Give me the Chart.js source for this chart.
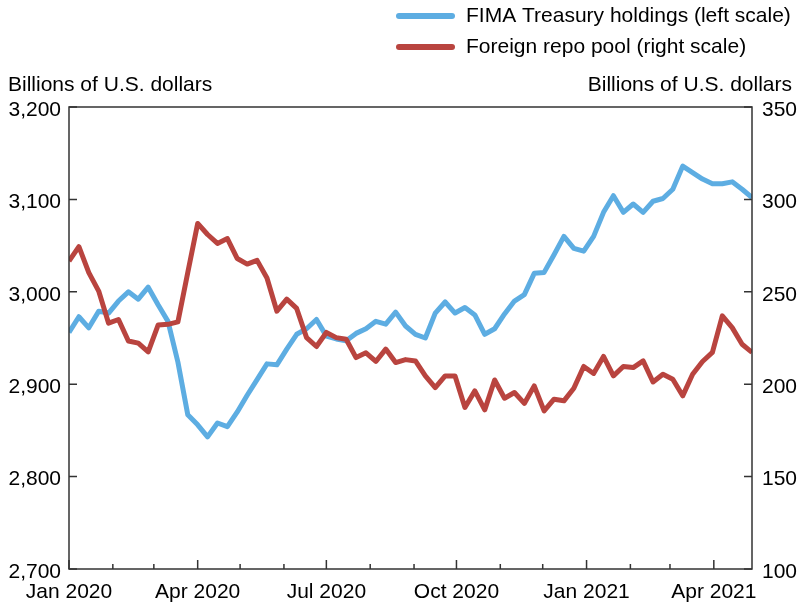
<!DOCTYPE html>
<html>
<head>
<meta charset="utf-8">
<script src="https://cdn.jsdelivr.net/npm/chart.js@4.4.1/dist/chart.umd.min.js"></script>
<style>
  html, body { margin: 0; padding: 0; background: #fff; }
  #wrap { width: 797px; height: 607px; position: relative; }
</style>
</head>
<body>
<div id="wrap"><canvas id="chart"></canvas></div>
<script>
// weekly observation dates (Wednesdays), Jan 1 2020 .. Apr 28 2021
const weeks = [];
for (let i = 0; i < 70; i++) {
  weeks.push(new Date(Date.UTC(2020, 0, 1 + 7 * i)).toISOString().slice(0, 10));
}

// FIMA Treasury holdings, billions (left scale)
const fimaHoldings = [
  2956, 2973, 2961, 2979, 2977, 2990, 3000, 2992, 3005, 2986,
  2968, 2924, 2867, 2856, 2843, 2858, 2854, 2870, 2888, 2905,
  2922, 2921, 2938, 2954, 2960, 2970, 2952, 2949, 2947, 2955,
  2960, 2968, 2965, 2978, 2963, 2954, 2950, 2977, 2989, 2977,
  2983, 2975, 2954, 2960, 2976, 2990, 2997, 3020, 3021, 3040,
  3060, 3047, 3044, 3060, 3086, 3104, 3086, 3095, 3086, 3098,
  3101, 3111, 3136, 3129, 3122, 3117, 3117, 3119, 3111, 3102
];

// Foreign repo pool, billions (right scale)
const repoPool = [
  266.6, 274.4, 260.4, 250.4, 233.0, 235.0, 223.4, 222.2, 217.5, 232.0,
  232.4, 233.7, 260.4, 287.0, 281.0, 276.2, 278.8, 268.0, 265.0, 267.0,
  257.5, 239.5, 246.0, 241.0, 225.2, 220.4, 228.0, 225.2, 224.3, 214.4,
  217.0, 212.3, 219.0, 211.7, 213.3, 212.6, 204.5, 198.2, 204.5, 204.5,
  187.4, 196.4, 186.1, 202.3, 192.4, 195.5, 189.6, 199.1, 185.6, 191.9,
  191.0, 197.8, 209.6, 205.8, 215.0, 204.5, 209.6, 209.0, 212.6, 201.2,
  205.4, 202.7, 193.7, 205.4, 212.3, 217.2, 237.0, 230.6, 221.6, 217.2
];

const quarterLabels = ['Jan 2020', 'Apr 2020', 'Jul 2020', 'Oct 2020', 'Jan 2021', 'Apr 2021'];
const unitLabel = 'Billions of U.S. dollars';

const BLUE = '#5dade2';
const RED = '#b9443f';
const FONT = "'Liberation Sans', Arial, sans-serif";

const t0 = Date.UTC(2020, 0, 1);
const dayOf = iso => (Date.parse(iso) - t0) / 86400000;

// month starts, Jan 2020 .. Apr 2021
const monthTicks = [];
for (let m = 0; m < 16; m++) monthTicks.push((Date.UTC(2020, m, 1) - t0) / 86400000);

Chart.defaults.font.family = FONT;
Chart.defaults.font.size = 21;
Chart.defaults.color = '#000';

const framePlugin = {
  id: 'frame',
  afterDatasetsDraw(chart) {
    const { ctx, chartArea: a, scales } = chart;
    ctx.save();
    ctx.strokeStyle = '#333';
    ctx.lineWidth = 1.5;
    ctx.strokeRect(a.left, a.top, a.right - a.left, a.bottom - a.top);
    ctx.beginPath();
    scales.yL.ticks.forEach(t => {
      const y = scales.yL.getPixelForValue(t.value);
      ctx.moveTo(a.left, y); ctx.lineTo(a.left + 8, y);
    });
    scales.yR.ticks.forEach(t => {
      const y = scales.yR.getPixelForValue(t.value);
      ctx.moveTo(a.right, y); ctx.lineTo(a.right - 8, y);
    });
    scales.x.ticks.forEach((t, i) => {
      const x = scales.x.getPixelForValue(t.value);
      const len = i % 3 === 0 ? 9 : 5;
      ctx.moveTo(x, a.bottom); ctx.lineTo(x, a.bottom - len);
    });
    ctx.stroke();

    // unit titles
    ctx.fillStyle = '#000';
    ctx.font = '21px ' + FONT;
    ctx.textBaseline = 'alphabetic';
    ctx.textAlign = 'left';
    ctx.fillText(unitLabel, 8, 91);
    ctx.textAlign = 'right';
    ctx.fillText(unitLabel, 792, 91);

    // legend
    ctx.textAlign = 'left';
    ctx.textBaseline = 'middle';
    ctx.lineCap = 'round';
    chart.data.datasets.forEach((ds, i) => {
      const y = 16 + i * 31;
      ctx.strokeStyle = ds.borderColor;
      ctx.lineWidth = 6;
      ctx.beginPath();
      ctx.moveTo(399, y); ctx.lineTo(452, y);
      ctx.stroke();
      ctx.fillText(ds.label, 466, y);
    });
    ctx.restore();
  }
};

new Chart(document.getElementById('chart'), {
  type: 'line',
  data: {
    datasets: [
      {
        label: 'FIMA Treasury holdings (left scale)',
        data: weeks.map((w, i) => ({ x: dayOf(w), y: fimaHoldings[i] })),
        yAxisID: 'yL',
        borderColor: BLUE,
        borderWidth: 5,
        pointRadius: 0,
        borderJoinStyle: 'round',
        tension: 0,
        order: 2
      },
      {
        label: 'Foreign repo pool (right scale)',
        data: weeks.map((w, i) => ({ x: dayOf(w), y: repoPool[i] })),
        yAxisID: 'yR',
        borderColor: RED,
        borderWidth: 5,
        pointRadius: 0,
        borderJoinStyle: 'round',
        tension: 0,
        order: 1
      }
    ]
  },
  options: {
    responsive: true,
    maintainAspectRatio: false,
    animation: false,
    layout: { padding: { top: 107, left: 0, right: 0, bottom: 0 } },
    plugins: { legend: { display: false }, tooltip: { enabled: false } },
    scales: {
      x: {
        type: 'linear',
        min: 0,
        max: dayOf(weeks[weeks.length - 1]),
        grid: { display: false, drawTicks: false },
        border: { display: false },
        afterBuildTicks: s => { s.ticks = monthTicks.map(v => ({ value: v })); },
        afterFit: s => { s.height = 38; },
        ticks: {
          autoSkip: false,
          maxRotation: 0,
          padding: 11,
          callback: v => {
            const m = monthTicks.indexOf(v);
            return m % 3 === 0 ? quarterLabels[m / 3] : '';
          }
        }
      },
      yL: {
        position: 'left',
        min: 2700,
        max: 3200,
        grid: { display: false, drawTicks: false },
        border: { display: false },
        afterFit: s => { s.width = 69; },
        ticks: { stepSize: 100, padding: 8, labelOffset: 3, callback: v => v.toLocaleString('en-US') }
      },
      yR: {
        position: 'right',
        min: 100,
        max: 350,
        grid: { display: false, drawTicks: false },
        border: { display: false },
        afterFit: s => { s.width = 45; },
        ticks: { stepSize: 50, padding: 10, labelOffset: 3 }
      }
    }
  },
  plugins: [framePlugin]
});
</script>
</body>
</html>
